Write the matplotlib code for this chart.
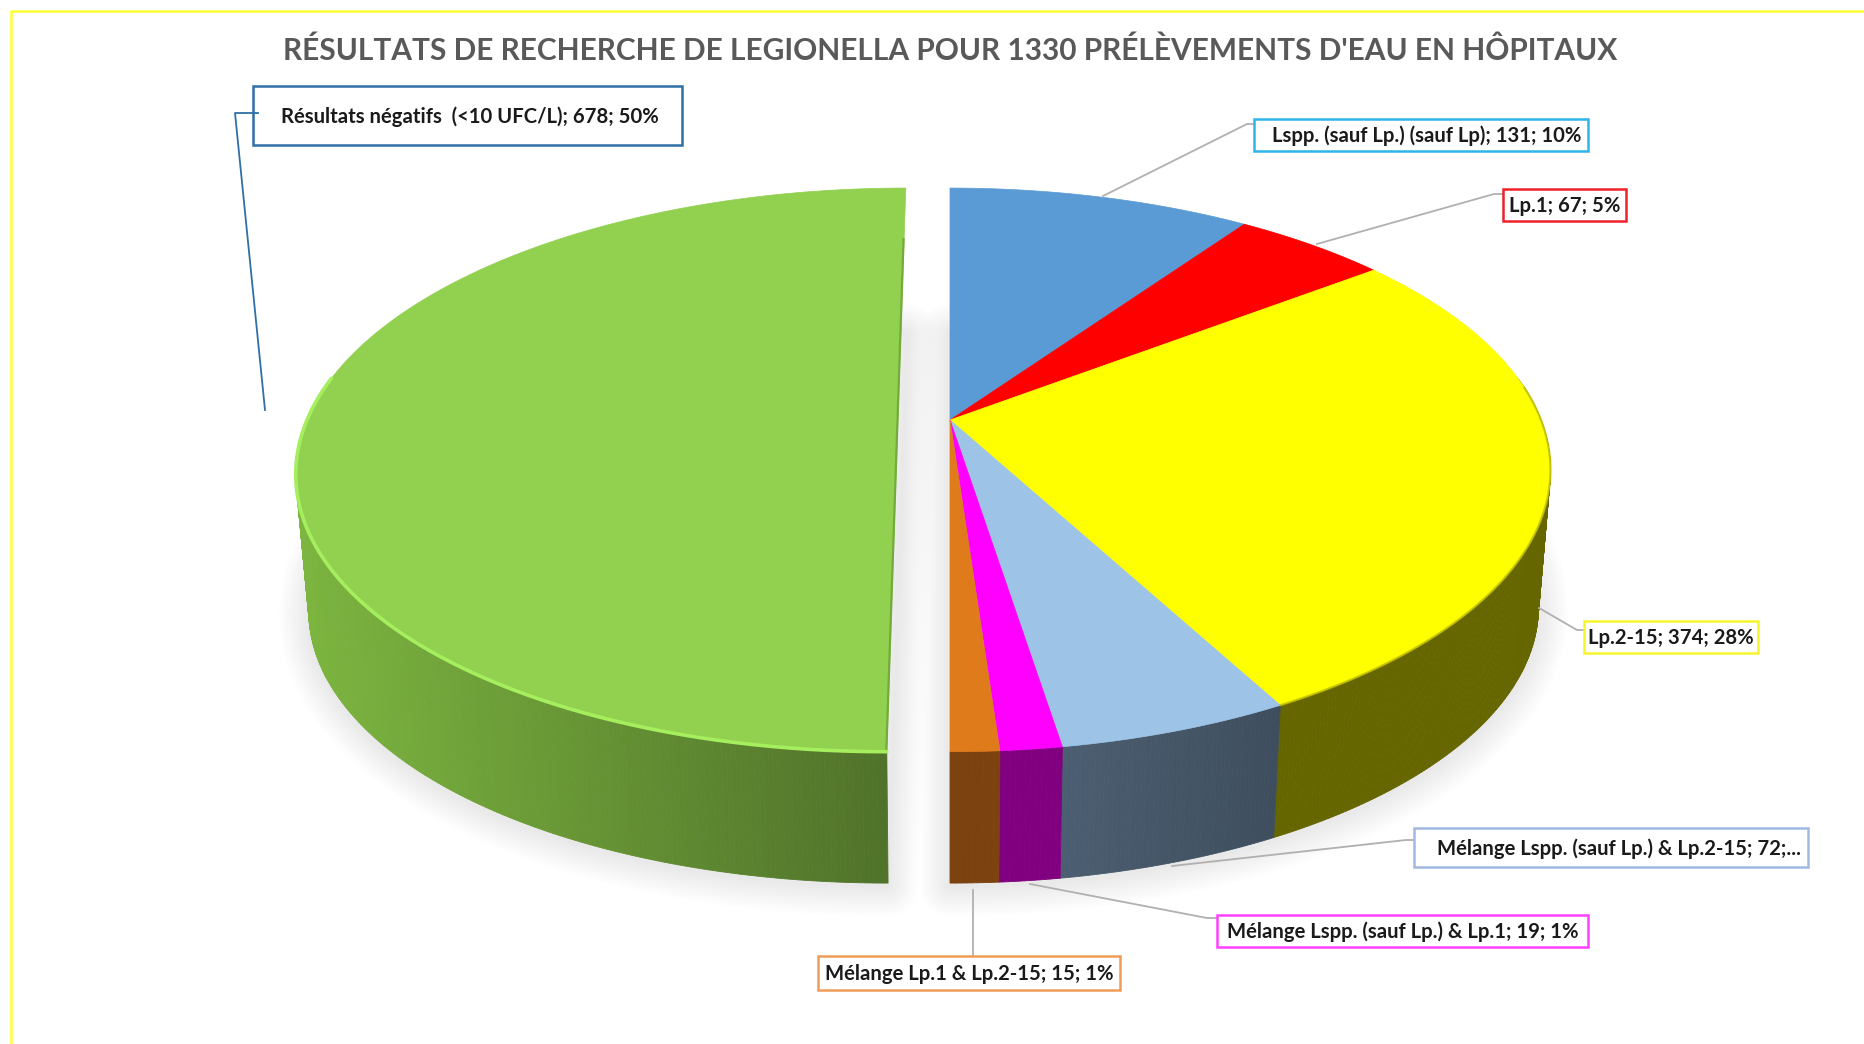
import numpy as np
import matplotlib
matplotlib.use("Agg")
import matplotlib.pyplot as plt
from matplotlib.patches import Polygon, Rectangle
from matplotlib.colors import to_rgb

title = "RÉSULTATS DE RECHERCHE DE LEGIONELLA POUR 1330 PRÉLÈVEMENTS D'EAU EN HÔPITAUX"
values = [131, 67, 374, 72, 19, 15, 678]
top_colors = ["#5B9BD5", "#FF0000", "#FFFF00", "#9DC3E6", "#FF00FF", "#E07B1C", "#92D050"]
side_start = ["#37618A", "#990000", "#666600", "#3E4E5E", "#800080", "#7C420F", "#50722A"]
side_end = ["#37618A", "#990000", "#666600", "#4C5E71", "#800080", "#7C420F", "#7CB53F"]
labels = [
    "Lspp. (sauf Lp.) (sauf Lp); 131; 10%",
    "Lp.1; 67; 5%",
    "Lp.2-15; 374; 28%",
    "Mélange Lspp. (sauf Lp.) & Lp.2-15; 72;...",
    "Mélange Lspp. (sauf Lp.) & Lp.1; 19; 1%",
    "Mélange Lp.1 & Lp.2-15; 15; 1%",
    "Résultats négatifs  (<10 UFC/L); 678; 50%",
]
box_edges = ["#2FB4E9", "#F0202A", "#F5F52A", "#A3B9E3", "#FF40FF", "#EE9C58", "#2F6FA8"]
boxes = [(1254, 119, 334, 32), (1503, 189, 123, 32), (1584, 621, 174, 32), (1414, 828, 394, 39),
         (1217, 915, 371, 32), (818, 956, 302, 34), (253, 86, 429, 59)]
leaders = [
    [(1103, 196), (1247, 124), (1254, 124)],
    [(1317, 244), (1494, 194), (1503, 194)],
    [(1539, 608), (1577, 630), (1584, 630)],
    [(1172, 866), (1406, 840), (1414, 840)],
    [(1030, 884), (1207, 918), (1217, 918)],
    [(973, 890), (973, 956)],
    [(265, 410), (235, 113), (258, 113)],
]
explode = [0, 0, 0, 0, 0, 0, 0.088]

CX, CY = 950.0, 420.0
RX, RY, K = 591.0, 273.0, 0.177
SHRINK, DEPTH = 0.98, 138.0

plt.rcParams["font.family"] = ["Lato", "DejaVu Sans"]
fig = plt.figure(figsize=(18.65, 10.44), dpi=100, facecolor="white")
ax = fig.add_axes([0, 0, 1, 1])
ax.set_xlim(0, 1865)
ax.set_ylim(1044, 0)
ax.axis("off")


def project(u, v, lower=False):
    w = 1 + K * v
    if lower:
        return CX + SHRINK * RX * u / w, CY + DEPTH - SHRINK * RY * v / w
    return CX + RX * u / w, CY - RY * v / w


def arc(start, end, shift, lower=False):
    n = max(3, int(abs(end - start) * 150))
    th = np.linspace(start, end, n)
    return th, project(np.sin(th) - shift, np.cos(th), lower)


total = sum(values)
edges = 2 * np.pi * np.concatenate([[0], np.cumsum(values)]) / total

# soft shadow beneath each separated part
groups = [(edges[0], edges[6], 0.0), (edges[6], edges[7], explode[6])]
for a, b, sh in groups:
    _, (xl, yl) = arc(a, b, sh, True)
    ax_, ay_ = project(-sh, 0.0, True)
    pts = np.column_stack([np.r_[xl, ax_], np.r_[yl, ay_] + 3])
    for lw in range(44, 0, -2):
        ax.add_patch(Polygon(pts, closed=True, fill=False, ec="black", lw=lw, alpha=0.0052,
                             joinstyle="round", zorder=1))

# side walls (only the part facing the viewer)
for i in range(len(values)):
    sh = explode[i]
    th, (xt, yt) = arc(edges[i], edges[i + 1], sh)
    _, (xb, yb) = arc(edges[i], edges[i + 1], sh, True)
    c0, c1 = np.array(to_rgb(side_start[i])), np.array(to_rgb(side_end[i]))
    span = np.abs(xt - xt[0]).max()
    for j in range(len(th) - 1):
        if np.cos(th[j]) > 0.15 and np.cos(th[j + 1]) > 0.15:
            continue
        f = abs(xt[j] - xt[0]) / span
        col = c0 + (c1 - c0) * f
        ax.add_patch(Polygon([(xt[j], yt[j]), (xt[j + 1], yt[j + 1]), (xb[j + 1], yb[j + 1]), (xb[j], yb[j])],
                             closed=True, fc=col, ec=col, lw=0.6, zorder=2))

# top faces
for i in range(len(values)):
    sh = explode[i]
    _, (x, y) = arc(edges[i], edges[i + 1], sh)
    ax_, ay_ = project(-sh, 0.0)
    ax.add_patch(Polygon(np.column_stack([np.r_[ax_, x], np.r_[ay_, y]]), closed=True,
                         fc=top_colors[i], ec=top_colors[i], lw=0.5, zorder=4))

# thin darker strip on the cut edge of the separated slice
x0, y0 = project(-explode[6], 0.75)
x1, y1 = project(-explode[6], -1.0)
ax.plot([x0 - 0.5, x1 - 0.5], [y0, y1], color="#74AB3C", lw=1.6, zorder=5)

# bevel highlights on the front rim
th, (x, y) = arc(edges[6], edges[6] + 0.55 * np.pi, explode[6])
ax.plot(x, y, color="#A5EE5E", lw=2.6, zorder=5, solid_capstyle="round")
th, (x, y) = arc(1.45, edges[3], 0.0)
ax.plot(x, y, color="#B5B500", lw=1.6, alpha=0.7, zorder=5)

# leaders and label boxes
for i, pts in enumerate(leaders):
    pts = np.array(pts)
    col = "#2F6FA8" if i == 6 else "#B0B0B0"
    ax.plot(pts[:, 0], pts[:, 1], color=col, lw=1.3, zorder=6)
for i, (bx, by, bw, bh) in enumerate(boxes):
    ax.add_patch(Rectangle((bx, by), bw, bh, fc="white" if i != 6 else "none", ec=box_edges[i], lw=1.8, zorder=7))
    if i in (0, 3):
        tx, ha = bx + bw - 7, "right"
    elif i == 6:
        tx, ha = bx + 28, "left"
    else:
        tx, ha = bx + bw / 2, "center"
    ax.text(tx, by + bh / 2 + 1, labels[i], ha=ha, va="center", fontsize=14.6, fontweight="bold",
            color="#1A1A1A", zorder=8)

ax.text(950, 51, title, ha="center", va="center", fontsize=21.5, fontweight="bold", color="#595959", zorder=8)

# frame
ax.plot([1865, 10.5, 10.5], [11, 11, 1044], color="#FFFF33", lw=1.8, zorder=9)

fig.savefig("out.png", dpi=100, facecolor="white")
